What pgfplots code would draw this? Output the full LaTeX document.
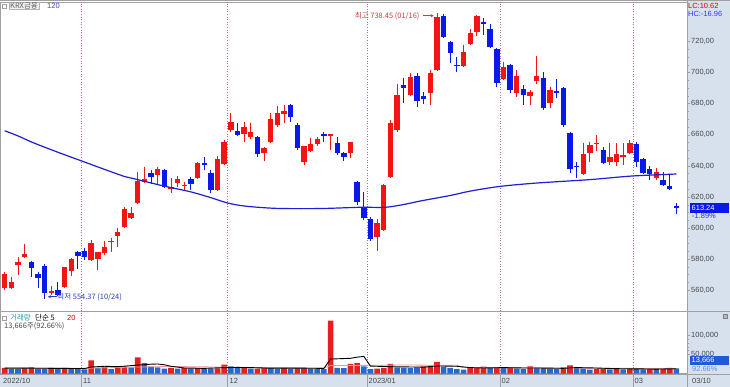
\documentclass[border=0pt]{standalone}
\usepackage{pgfplots}
\pgfplotsset{compat=1.18}
\usepackage{pgfplotstable}
\usetikzlibrary{arrows.meta}
\usepackage{fontspec}
\setmainfont{Liberation Sans}
\newfontfamily\kr{Noto Sans CJK KR}
\definecolor{upred}{RGB}{245,20,20}
\definecolor{dnblue}{RGB}{10,25,235}
\definecolor{vred}{RGB}{228,32,32}
\definecolor{vblue}{RGB}{40,105,205}
\definecolor{mablue}{RGB}{30,30,215}
\definecolor{panelbg}{RGB}{215,225,238}
\definecolor{monthln}{RGB}{175,105,175}
\definecolor{lblgray}{RGB}{70,70,70}
\definecolor{framegray}{RGB}{160,160,160}
\definecolor{hicol}{RGB}{205,60,60}
\definecolor{locol}{RGB}{40,60,200}
\definecolor{teal2}{RGB}{40,160,165}
\definecolor{pinkma}{RGB}{238,150,150}
\newcommand{\sz}{\fontsize{7.5}{8}\selectfont}

% up (red) candles: index open high low close
\pgfplotstableread{
i o h l c
0 561.3 571.5 560.5 570.5
1 561.3 568.8 560.6 565.5
2 576.3 581.6 569.8 578.4
3 581.2 589.8 581.0 583.1
7 558.5 562.7 557.0 559.7
9 562.3 575.2 562.0 574.8
10 572.6 580.5 569.2 579.9
13 579.5 592.3 579.0 590.6
14 580.1 584.8 573.0 584.4
15 583.8 591.9 583.0 588.0
16 590.8 593.4 584.8 591.9
17 594.9 599.8 588.0 597.5
18 600.9 613.8 600.0 612.3
19 606.3 613.8 605.8 609.9
20 615.9 636.3 615.3 630.3
21 629.4 639.1 629.0 631.8
23 634.1 639.1 628.1 637.8
25 624.9 632.0 622.8 626.6
26 629.2 633.5 626.6 631.4
27 627.1 629.8 624.5 627.9
29 632.0 642.7 631.5 642.1
32 624.5 646.4 624.0 644.2
33 641.2 656.6 641.0 655.1
34 663.1 673.8 662.0 668.4
36 660.5 668.4 655.6 664.8
37 658.4 667.4 657.1 661.8
39 648.5 652.4 643.3 651.3
40 655.6 674.2 655.0 669.9
41 666.3 678.5 665.2 674.2
42 673.1 679.2 667.4 675.5
45 642.7 653.0 640.6 652.8
46 649.8 657.7 649.0 654.1
47 653.9 658.8 653.0 657.1
49 659.4 660.8 650.2 660.3
52 648.1 655.5 644.8 655.1
56 594.5 605.6 585.5 603.5
57 598.8 628.5 598.0 627.7
58 633.1 669.5 632.0 667.8
59 663.1 692.7 662.0 685.6
61 685.6 699.5 685.0 697.4
64 687.1 701.7 679.2 700.0
65 701.7 738.45 701.0 735.5
69 704.2 717.8 704.0 713.5
70 718.4 727.8 718.0 725.7
71 726.3 737.0 723.5 736.4
75 695.7 707.0 695.0 703.4
77 687.1 701.7 684.1 697.8
79 684.9 688.8 679.2 687.7
80 694.8 710.7 692.7 697.8
82 680.7 690.5 677.0 688.8
87 634.8 654.5 634.0 647.6
88 648.1 655.6 642.7 653.4
89 654.1 659.9 649.8 654.9
91 642.7 654.5 640.6 645.9
92 642.5 654.5 639.9 647.6
93 645.5 654.5 640.6 646.8
94 648.1 656.6 647.6 654.5
98 632.4 638.4 630.9 635.9
}\upc

% down (blue) candles
\pgfplotstableread{
i o h l c
4 578.4 579.0 568.8 574.5
5 570.5 572.0 561.3 568.1
6 575.6 577.0 554.37 558.0
8 560.2 565.5 556.5 557.0
11 584.6 585.5 573.5 582.0
12 585.3 587.0 579.5 581.6
22 635.2 637.4 628.3 632.6
24 637.4 638.0 625.6 626.2
28 631.6 633.1 624.5 628.1
30 642.1 645.9 637.4 640.3
31 635.6 637.4 622.8 624.5
35 662.7 667.4 659.4 659.9
38 658.4 659.0 645.5 647.4
43 679.4 680.0 668.0 671.7
44 666.3 667.8 650.5 651.3
48 660.5 661.6 655.6 659.2
50 654.5 658.8 647.0 648.5
51 648.5 649.0 643.3 645.5
53 629.8 630.0 614.8 616.6
54 613.3 623.4 605.0 606.3
55 605.6 607.0 592.0 592.8
60 692.0 696.3 680.7 689.9
62 697.8 699.5 678.1 682.0
63 685.0 687.7 679.8 682.8
66 736.4 737.7 722.0 722.7
67 719.9 720.5 706.0 712.4
68 704.9 710.3 700.6 704.2
72 732.3 734.9 724.2 731.5
73 727.8 731.3 716.0 716.7
74 715.0 715.6 691.0 693.5
76 704.9 705.5 687.1 688.8
78 689.2 692.0 679.2 685.6
81 696.3 700.6 676.0 677.0
83 688.4 695.7 683.4 687.1
84 689.9 690.5 665.2 666.3
85 661.4 662.0 635.6 637.8
86 639.9 642.7 632.0 639.1
90 650.2 652.4 641.6 642.1
95 654.1 655.6 639.5 642.7
96 644.4 645.0 634.5 635.2
97 637.8 639.9 630.9 634.8
99 630.9 635.9 627.1 627.7
100 627.1 634.8 624.5 624.9
101 614.2 616.0 609.1 613.24
}\dnc

% volume, red bars
\pgfplotstableread{
i v
0 14500
3 14500
4 16200
7 14500
9 14800
13 34700
15 17100
17 17900
18 18900
20 42600
25 14500
27 14500
29 14500
32 13700
33 23200
36 17100
38 12800
39 16200
42 14500
44 14500
45 14600
49 139000
52 25000
53 27600
56 12700
57 14500
58 25000
63 18900
64 20600
65 30300
70 14500
71 15000
72 17900
74 16200
76 16200
79 18900
84 16200
85 21500
89 11800
90 12700
92 12700
94 13700
97 11800
99 12700
100 14750
}\volr

% volume, blue bars
\pgfplotstableread{
i v
1 11800
2 11500
5 12700
6 12500
8 12700
10 12700
11 12500
12 11000
14 14500
16 11800
19 16200
21 27600
22 17900
23 16200
24 12700
26 12700
28 12700
30 12700
31 12500
34 18900
35 14500
37 12700
40 14500
41 12700
43 12700
46 12700
47 12500
48 11800
50 14500
51 14300
54 18900
55 11800
59 16200
60 14500
61 14300
62 14200
66 17900
67 14500
68 11800
69 10000
73 14500
75 14500
77 12700
78 11800
80 14500
81 13700
82 12700
83 11800
86 14500
87 13700
88 10000
91 11000
93 11000
95 11800
96 11000
98 11200
101 13666
}\volb

\begin{document}
\begin{tikzpicture}
\path[use as bounding box] (0bp,0bp) rectangle (730bp,387bp);
\begin{scope}[x=1bp,y=1bp]
\fill[white] (0,0) rectangle (730,387);
\fill[panelbg] (687,0) rectangle (730,387);
\fill[panelbg] (0,0) rectangle (730,13);
\end{scope}

% ---------- price panel ----------
\begin{axis}[
  at={(0bp,75.5bp)}, anchor=south west, scale only axis,
  width=687bp, height=309.5bp,
  xmin=-0.707, xmax=102.6, ymin=546.4, ymax=745.4,
  axis line style={framegray, line width=0.8bp},
  xtick=\empty,
  extra x ticks={11.5,33.5,54.5,74.5,94.5},
  extra x tick labels={},
  extra x tick style={grid=major, major tick length=0pt},
  major grid style={monthln, dash pattern=on 1bp off 1.6bp, line width=0.8bp},
  ytick={560,580,...,720},
  yticklabels={{560,00},{580,00},{600,00},{620,00},{640,00},{660,00},{680,00},{700,00},{720,00}},
  ytick pos=right, yticklabel pos=right,
  tick align=outside, major tick length=3bp, minor tick length=1.5bp,
  minor y tick num=3,
  tick style={framegray, line width=0.6bp},
  yticklabel style={font=\sz, text=lblgray, inner sep=1bp},
]
% wicks
\addplot[forget plot, draw=none, mark=none, error bars/.cd, y dir=both, y explicit, error mark=none,
  error bar style={draw=upred, line width=0.9bp}]
  table[x=i, y=o, y error plus expr={\thisrow{h}-\thisrow{o}}, y error minus expr={\thisrow{o}-\thisrow{l}}] {\upc};
\addplot[forget plot, draw=none, mark=none, error bars/.cd, y dir=both, y explicit, error mark=none,
  error bar style={draw=dnblue, line width=0.9bp}]
  table[x=i, y=c, y error plus expr={\thisrow{h}-\thisrow{c}}, y error minus expr={\thisrow{c}-\thisrow{l}}] {\dnc};
% bodies
\addplot[forget plot, draw=none, mark=none, error bars/.cd, y dir=plus, y explicit, error mark=none,
  error bar style={draw=upred, line width=5.4bp}]
  table[x=i, y=o, y error plus expr={\thisrow{c}-\thisrow{o}}, y error minus expr={0}] {\upc};
\addplot[forget plot, draw=none, mark=none, error bars/.cd, y dir=plus, y explicit, error mark=none,
  error bar style={draw=dnblue, line width=5.4bp}]
  table[x=i, y=c, y error plus expr={\thisrow{o}-\thisrow{c}}, y error minus expr={0}] {\dnc};
% 120-day moving average
\addplot[mablue, line width=1.2bp, smooth, mark=none] coordinates {
(0,662.6) (2,659.3) (4.3,654.9) (8,648.8) (11.5,643.3) (15,637.8) (18.1,633.1)
(19.6,631.6) (24,627.0) (27.9,623.4) (31,619.6) (33.4,616.3) (36.1,614.2)
(40.9,612.7) (47.4,612.6) (53.4,613.4) (57.2,613.4) (60,615.2) (62.7,617.6)
(67,621.0) (70,623.8) (74.4,626.8) (80,629.0) (88,631.2) (94.3,633.5) (101,634.8)};
% annotations
\node[anchor=east, inner sep=0, text=hicol, font=\kr\sz] at (axis cs:62.4,736.6) {최고 738.45 (01/16)};
\draw[hicol, line width=0.8bp, -{Stealth[length=3bp,width=3bp]}] (axis cs:62.9,736.6) -- (axis cs:64.5,736.6);
\draw[locol, line width=0.8bp, -{Stealth[length=3bp,width=3bp]}] (axis cs:7.9,555.9) -- (axis cs:6.5,555.9);
\node[anchor=west, inner sep=0, text=locol, font=\kr\sz] at (axis cs:7.9,555.9) {최저 554.37 (10/24)};
\end{axis}

% ---------- volume panel ----------
\begin{axis}[
  at={(0bp,13.5bp)}, anchor=south west, scale only axis,
  width=687bp, height=62bp,
  xmin=-0.707, xmax=102.6, ymin=0, ymax=163158,
  axis line style={framegray, line width=0.8bp},
  xtick=\empty,
  extra x ticks={11.5,33.5,54.5,74.5,94.5},
  extra x tick labels={},
  extra x tick style={grid=major, major tick length=0pt},
  major grid style={monthln, dash pattern=on 1bp off 1.6bp, line width=0.8bp},
  ytick={50000,100000},
  yticklabels={{50,000},{100,000}},
  scaled y ticks=false,
  ytick pos=right, yticklabel pos=right,
  tick align=outside, major tick length=3bp, minor tick length=1.5bp,
  minor y tick num=4,
  tick style={framegray, line width=0.6bp},
  yticklabel style={font=\sz, text=lblgray, inner sep=1bp},
]
\addplot[ybar, bar width=5.6bp, bar shift=0pt, fill=vred, draw=none] table[x=i, y=v] {\volr};
\addplot[ybar, bar width=5.6bp, bar shift=0pt, fill=vblue, draw=none] table[x=i, y=v] {\volb};
% 20-day MA (pink) and 5-day MA (black)
\addplot[pinkma, line width=0.8bp, mark=none] coordinates {
(0,14500) (12,13800) (20,17000) (25,18500) (30,17500) (40,15200) (48,14200)
(49,20800) (55,21500) (60,22300) (68,21500) (69,15000) (75,15200) (80,14800)
(90,14000) (101,12800)};
\addplot[black, line width=0.9bp, mark=none] coordinates {
(0,14000) (4,14000) (8,13500) (12,13000) (13,17000) (15,19000) (17,18000)
(20,22000) (22,24500) (23,25000) (24,23000) (25,19000) (27,14500) (30,13500)
(33,15500) (35,16000) (37,15500) (40,14000) (45,14000) (48,13500) (49,38000)
(52,40000) (53,43000) (54,45000) (55,19500) (56,19000) (58,18000) (60,17500)
(63,16500) (65,20000) (68,19000) (70,15500) (72,14500) (75,15500) (78,14500)
(80,14500) (84,13600) (86,15600) (89,14400) (92,12700) (95,12200) (98,11600)
(101,12500)};
\end{axis}

\begin{scope}[x=1bp,y=1bp]
% ---------- frame lines ----------
\draw[framegray, line width=0.8bp] (0,386.3) -- (730,386.3);
\draw[framegray, line width=0.8bp] (687,0) -- (687,387);
\draw[framegray, line width=0.8bp] (687,75.5) -- (730,75.5);
\draw[framegray, line width=0.8bp] (0,13) -- (730,13);
\foreach \xx in {81.2,227.5,366.9,499.9,632.9} {\draw[framegray, line width=0.7bp] (\xx,0) -- (\xx,13);}

% ---------- date strip ----------
\begin{scope}[every node/.style={anchor=west, inner sep=0, text=lblgray, font=\sz}]
\node at (3,6.3) {2022/10};
\node at (83,6.3) {11};
\node at (229.5,6.3) {12};
\node at (368.5,6.3) {2023/01};
\node at (501.5,6.3) {02};
\node at (634.5,6.3) {03};
\node at (692,6.3) {03/10};
\end{scope}

% ---------- legends ----------
\draw[framegray, fill=white, line width=0.6bp] (2.5,379) rectangle (6.5,383);
\node[anchor=west, draw=framegray!80, fill=gray!12, inner xsep=1.5bp, inner ysep=0.2bp, text=gray!75!black, font=\kr\sz] at (8.5,381) {KRX금융};
\node[anchor=west, inner sep=0, text=mablue!85, font=\sz] at (47,381) {120};

\draw[framegray, fill=white, line width=0.6bp] (2.5,67) rectangle (6.5,71);
\node[anchor=west, inner sep=0, text=teal2, font=\kr\sz] at (10,69) {거래량};
\node[anchor=west, inner sep=0, text=black, font=\kr\sz] at (35,69) {단순 5};
\node[anchor=west, inner sep=0, text=red!85!black, font=\sz] at (67,69) {20};
\node[anchor=west, inner sep=0, text=lblgray, font=\kr\sz] at (4,60.5) {13,666주(92.66\%)};

% ---------- right panel labels ----------
\node[anchor=west, inner sep=0, text=red!85!black, font=\sz] at (688,381.5) {LC:10.62};
\node[anchor=west, inner sep=0, text=blue!80, font=\sz] at (688,373.5) {HC:-16.96};
\fill[dnblue] (689.5,174) rectangle (728.5,184);
\node[anchor=west, inner sep=0, text=white, font=\sz] at (691.5,179) {613.24};
\node[anchor=west, inner sep=0, text=blue!85, font=\sz] at (692,170.8) {-1.89\%};
\fill[vblue!85!blue] (689.5,22) rectangle (728.5,30.5);
\node[anchor=west, inner sep=0, text=white, font=\sz] at (691.5,26.3) {13,666};
\node[anchor=west, inner sep=0, text={rgb,255:red,90;green,140;blue,230}, font=\sz] at (692,18.3) {92.66\%};
\draw[gray, fill=gray!55, line width=0.5bp] (723.5,69) rectangle (727.5,72.5);
\end{scope}
\end{tikzpicture}
\end{document}
